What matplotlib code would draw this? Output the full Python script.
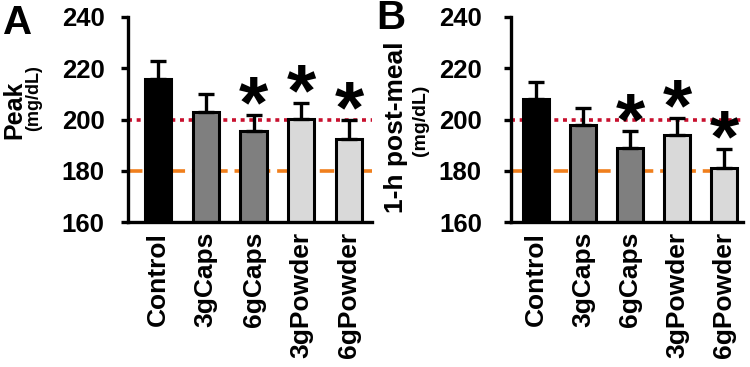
import matplotlib
matplotlib.use("Agg")
import matplotlib.pyplot as plt

plt.rcParams['font.family'] = ['Liberation Sans', 'DejaVu Sans']
plt.rcParams['font.weight'] = 'bold'

categories = ["Control", "3gCaps", "6gCaps", "3gPowder", "6gPowder"]
peak_means = [216, 202.9, 195.4, 200.1, 192.2]
peak_errs = [7.0, 6.9, 6.4, 6.4, 7.6]
peak_sig = [False, False, True, True, True]
post_means = [207.9, 197.8, 188.9, 193.8, 181.2]
post_errs = [6.9, 6.8, 6.5, 6.9, 7.3]
post_sig = [False, False, True, True, True]
bar_colors = ["#000000", "#7f7f7f", "#7f7f7f", "#d9d9d9", "#d9d9d9"]
ref_high = 200
ref_low = 180
yticks = [160, 180, 200, 220, 240]

fig = plt.figure(figsize=(7.5, 3.67), dpi=100)
W, H = 750, 367

def px_axes(l, r, t, b):
    return fig.add_axes([l / W, 1 - b / H, (r - l) / W, (b - t) / H])

axA = px_axes(128, 372, 17, 222)
axB = px_axes(511, 743, 17, 222)

def draw(ax, means, errs, sig, xlim, pad):
    x = list(range(len(categories)))
    ax.axhline(ref_high, color="#c8102e", lw=2.6, linestyle=(0, (1.1, 1.3)), zorder=1)
    ax.axhline(ref_low, color="#f07f1c", lw=2.6, linestyle=(0, (4.0, 1.9)), zorder=1)
    ax.bar(x, means, width=0.55, color=bar_colors, edgecolor="black", linewidth=2.2, zorder=2)
    ax.errorbar(x, means, yerr=[[0] * len(errs), errs], fmt="none", ecolor="black",
                elinewidth=2.4, capsize=6, capthick=2.4, zorder=3)
    for xi, m, e, s in zip(x, means, errs, sig):
        if s:
            ax.text(xi, m + e - 5.0, "*", ha="center", va="baseline", fontsize=54,
                    fontweight="bold", zorder=4)
    ax.set_ylim(160, 240)
    ax.set_xlim(*xlim)
    ax.set_yticks(yticks)
    ax.set_yticklabels([str(t) for t in yticks], fontsize=18.5, fontweight="bold")
    ax.set_xticks(x)
    ax.set_xticklabels(categories, rotation=90, fontsize=19, fontweight="bold")
    ax.tick_params(axis="y", length=5, width=2.4, pad=pad)
    ax.tick_params(axis="x", length=0, pad=7)
    for sp in ["top", "right"]:
        ax.spines[sp].set_visible(False)
    for sp in ["left", "bottom"]:
        ax.spines[sp].set_linewidth(2.4)

draw(axA, peak_means, peak_errs, peak_sig, (-0.63, 4.48), 12)
draw(axB, post_means, post_errs, post_sig, (-0.53, 4.40), 16)

def ftext(xp, yp, s, **kw):
    fig.text(xp / W, 1 - yp / H, s, **kw)

ftext(18, 23, "A", fontsize=29, fontweight="bold", ha="center", va="center")
ftext(391, 18, "B", fontsize=29, fontweight="bold", ha="center", va="center")
ftext(14, 110, "Peak", fontsize=18, fontweight="bold", rotation=90, ha="center", va="center")
ftext(34, 98, "(mg/dL)", fontsize=13, fontweight="bold", rotation=90, ha="center", va="center")
ftext(396, 127, "1-h post-meal", fontsize=19, fontweight="bold", rotation=90, ha="center", va="center")
ftext(421, 120, "(mg/dL)", fontsize=14, fontweight="bold", rotation=90, ha="center", va="center")

fig.savefig("out.png", dpi=100)
